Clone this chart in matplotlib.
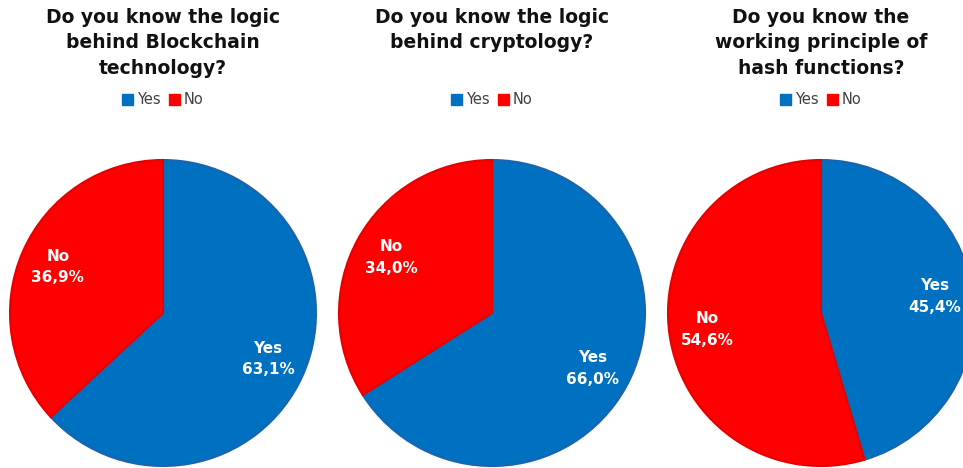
import matplotlib.pyplot as plt
import numpy as np

W, H = 963, 468
titles = [
    "Do you know the logic\nbehind Blockchain\ntechnology?",
    "Do you know the logic\nbehind cryptology?",
    "Do you know the\nworking principle of\nhash functions?",
]
categories = ["Yes", "No"]
yes_values = [63.1, 66.0, 45.4]
no_values = [36.9, 34.0, 54.6]
value_labels = [["63,1%", "36,9%"], ["66,0%", "34,0%"], ["45,4%", "54,6%"]]

colors = ["#0070C0", "#FF0000"]
edge_colors = ["#1A64AE", "#E60000"]
centers_x = [163, 492, 821]
center_y = 313
radius = 153

plt.rcParams['font.family'] = ['DejaVu Sans']
fig = plt.figure(figsize=(W / 100, H / 100), dpi=100)

for i in range(3):
    cx = centers_x[i]
    ax = fig.add_axes([(cx - radius) / W, (H - center_y - radius) / H,
                       2 * radius / W, 2 * radius / H])
    vals = [yes_values[i], no_values[i]]
    wedges, _ = ax.pie(vals, colors=colors, startangle=90, counterclock=False,
                       wedgeprops=dict(linewidth=1.5))
    for w, ec in zip(wedges, edge_colors):
        w.set_edgecolor(ec)
    cum = 0
    for j, v in enumerate(vals):
        mid = (cum + v / 2) / 100 * 360
        cum += v
        ang = np.deg2rad(90 - mid)
        ax.text(0.75 * np.cos(ang), 0.75 * np.sin(ang),
                f"{categories[j]}\n{value_labels[i][j]}",
                ha='center', va='center', color='white', fontsize=11,
                fontweight='bold', linespacing=1.55)
    ax.set_xlim(-1, 1)
    ax.set_ylim(-1, 1)
    ax.set_aspect('equal')
    ax.axis('off')

    fig.text(cx / W, 1 - 8 / H, titles[i], ha='center', va='top',
             fontsize=13.5, fontweight='bold', color='#111111', linespacing=1.42)
    handles = [plt.Rectangle((0, 0), 1, 1, color=c) for c in colors]
    fig.legend(handles, categories, loc='center', bbox_to_anchor=(cx / W, 1 - 100 / H),
               ncol=2, frameon=False, handlelength=0.7, handleheight=0.7,
               columnspacing=0.6, handletextpad=0.3, fontsize=10.5,
               labelcolor='#404040')

fig.savefig("out.png", dpi=100)
